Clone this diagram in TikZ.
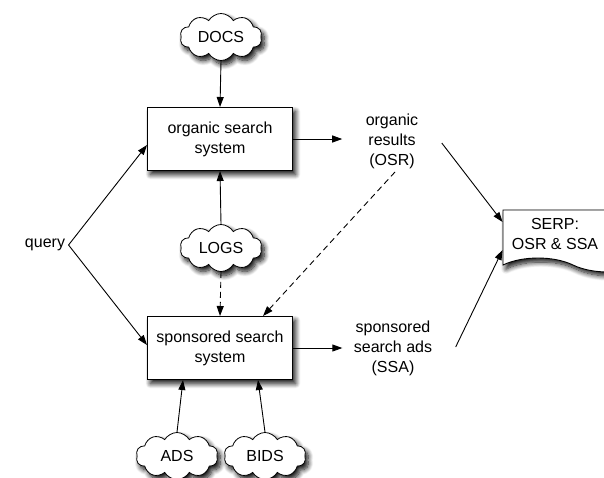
\documentclass[tikz,border=0pt]{standalone}
\usepackage{fontspec}
\setmainfont{Liberation Sans}
\usetikzlibrary{shapes.symbols,shadows.blur,arrows.meta}
\begin{document}
\begin{tikzpicture}
    [x=1pt,y=-1pt,
    font=\fontsize{16}{20}\selectfont,
    fuzz/.style={blur shadow={shadow xshift=3pt,shadow yshift=-4pt,shadow blur steps=10,shadow blur radius=5pt,shadow opacity=95}},
    sysbox/.style={draw,fill=white,line width=1pt,minimum width=145pt,minimum height=63pt,align=center,fuzz},
    store/.style={cloud,cloud puffs=10,cloud puff arc=120,cloud ignores aspect,draw,fill=white,line width=0.8pt,minimum width=82pt,minimum height=47pt,inner sep=0pt,fuzz},
    arr/.style={-{Triangle[length=10pt,width=7pt]},line width=0.9pt},
    dash arr/.style={arr,dash pattern=on 6pt off 4pt},
    note/.style={align=center}]
    \useasboundingbox (0,0) rectangle (604,477);
    \clip (0,0) rectangle (604,477);
    %systems
    \node[sysbox] (organic) at (220,139) {organic search\\system};
    \node[sysbox] (sponsored) at (220,348) {sponsored search\\system};
    %clouds
    \node[store] (docs) at (221,37) {DOCS};
    \node[store] (logs) at (221,248) {LOGS};
    \node[store] (ads) at (177,456) {ADS};
    \node[store] (bids) at (265,456) {BIDS};
    %results
    \node[note] (query) at (45,245) {query};
    \node[note] (osr) at (392,141) {organic\\results\\(OSR)};
    \node[note] (ssa) at (393,348) {sponsored\\search ads\\(SSA)};
    \node[tape,tape bend top=none,tape bend bottom=out and in,tape bend height=14pt,draw,fill=white,line width=0.9pt,
      minimum width=140pt,minimum height=62pt,fuzz,
      label={[note,xshift=-18pt]center:SERP:\\OSR \& SSA}] (serp) at (573,234) {};
    %arrows
    \draw[arr] (docs.south) -- (organic.north);
    \draw[arr] (logs.north) -- (organic.south);
    \draw[dash arr] (logs.south) -- (sponsored.north);
    \draw[arr] (ads.north) -- ([xshift=-37pt]sponsored.south);
    \draw[arr] (bids.north) -- ([xshift=38pt]sponsored.south);
    \draw[arr] (query.east) -- ([yshift=-6pt]organic.west);
    \draw[arr] (query.east) -- ([yshift=3pt]sponsored.west);
    \draw[arr,shorten >=20pt] (organic.east) -- (organic.east -| osr.west);
    \draw[arr,shorten >=8pt] (sponsored.east) -- (sponsored.east -| ssa.west);
    \draw[dash arr] ([xshift=3pt]osr.south) -- ([xshift=43pt]sponsored.north);
    \draw[arr] ([xshift=20pt,yshift=-2pt]osr.east) -- ([yshift=12pt]serp.west);
    \draw[arr] ([xshift=20pt,yshift=1pt]ssa.east) -- ([yshift=-16pt]serp.west);
\end{tikzpicture}
\end{document}
